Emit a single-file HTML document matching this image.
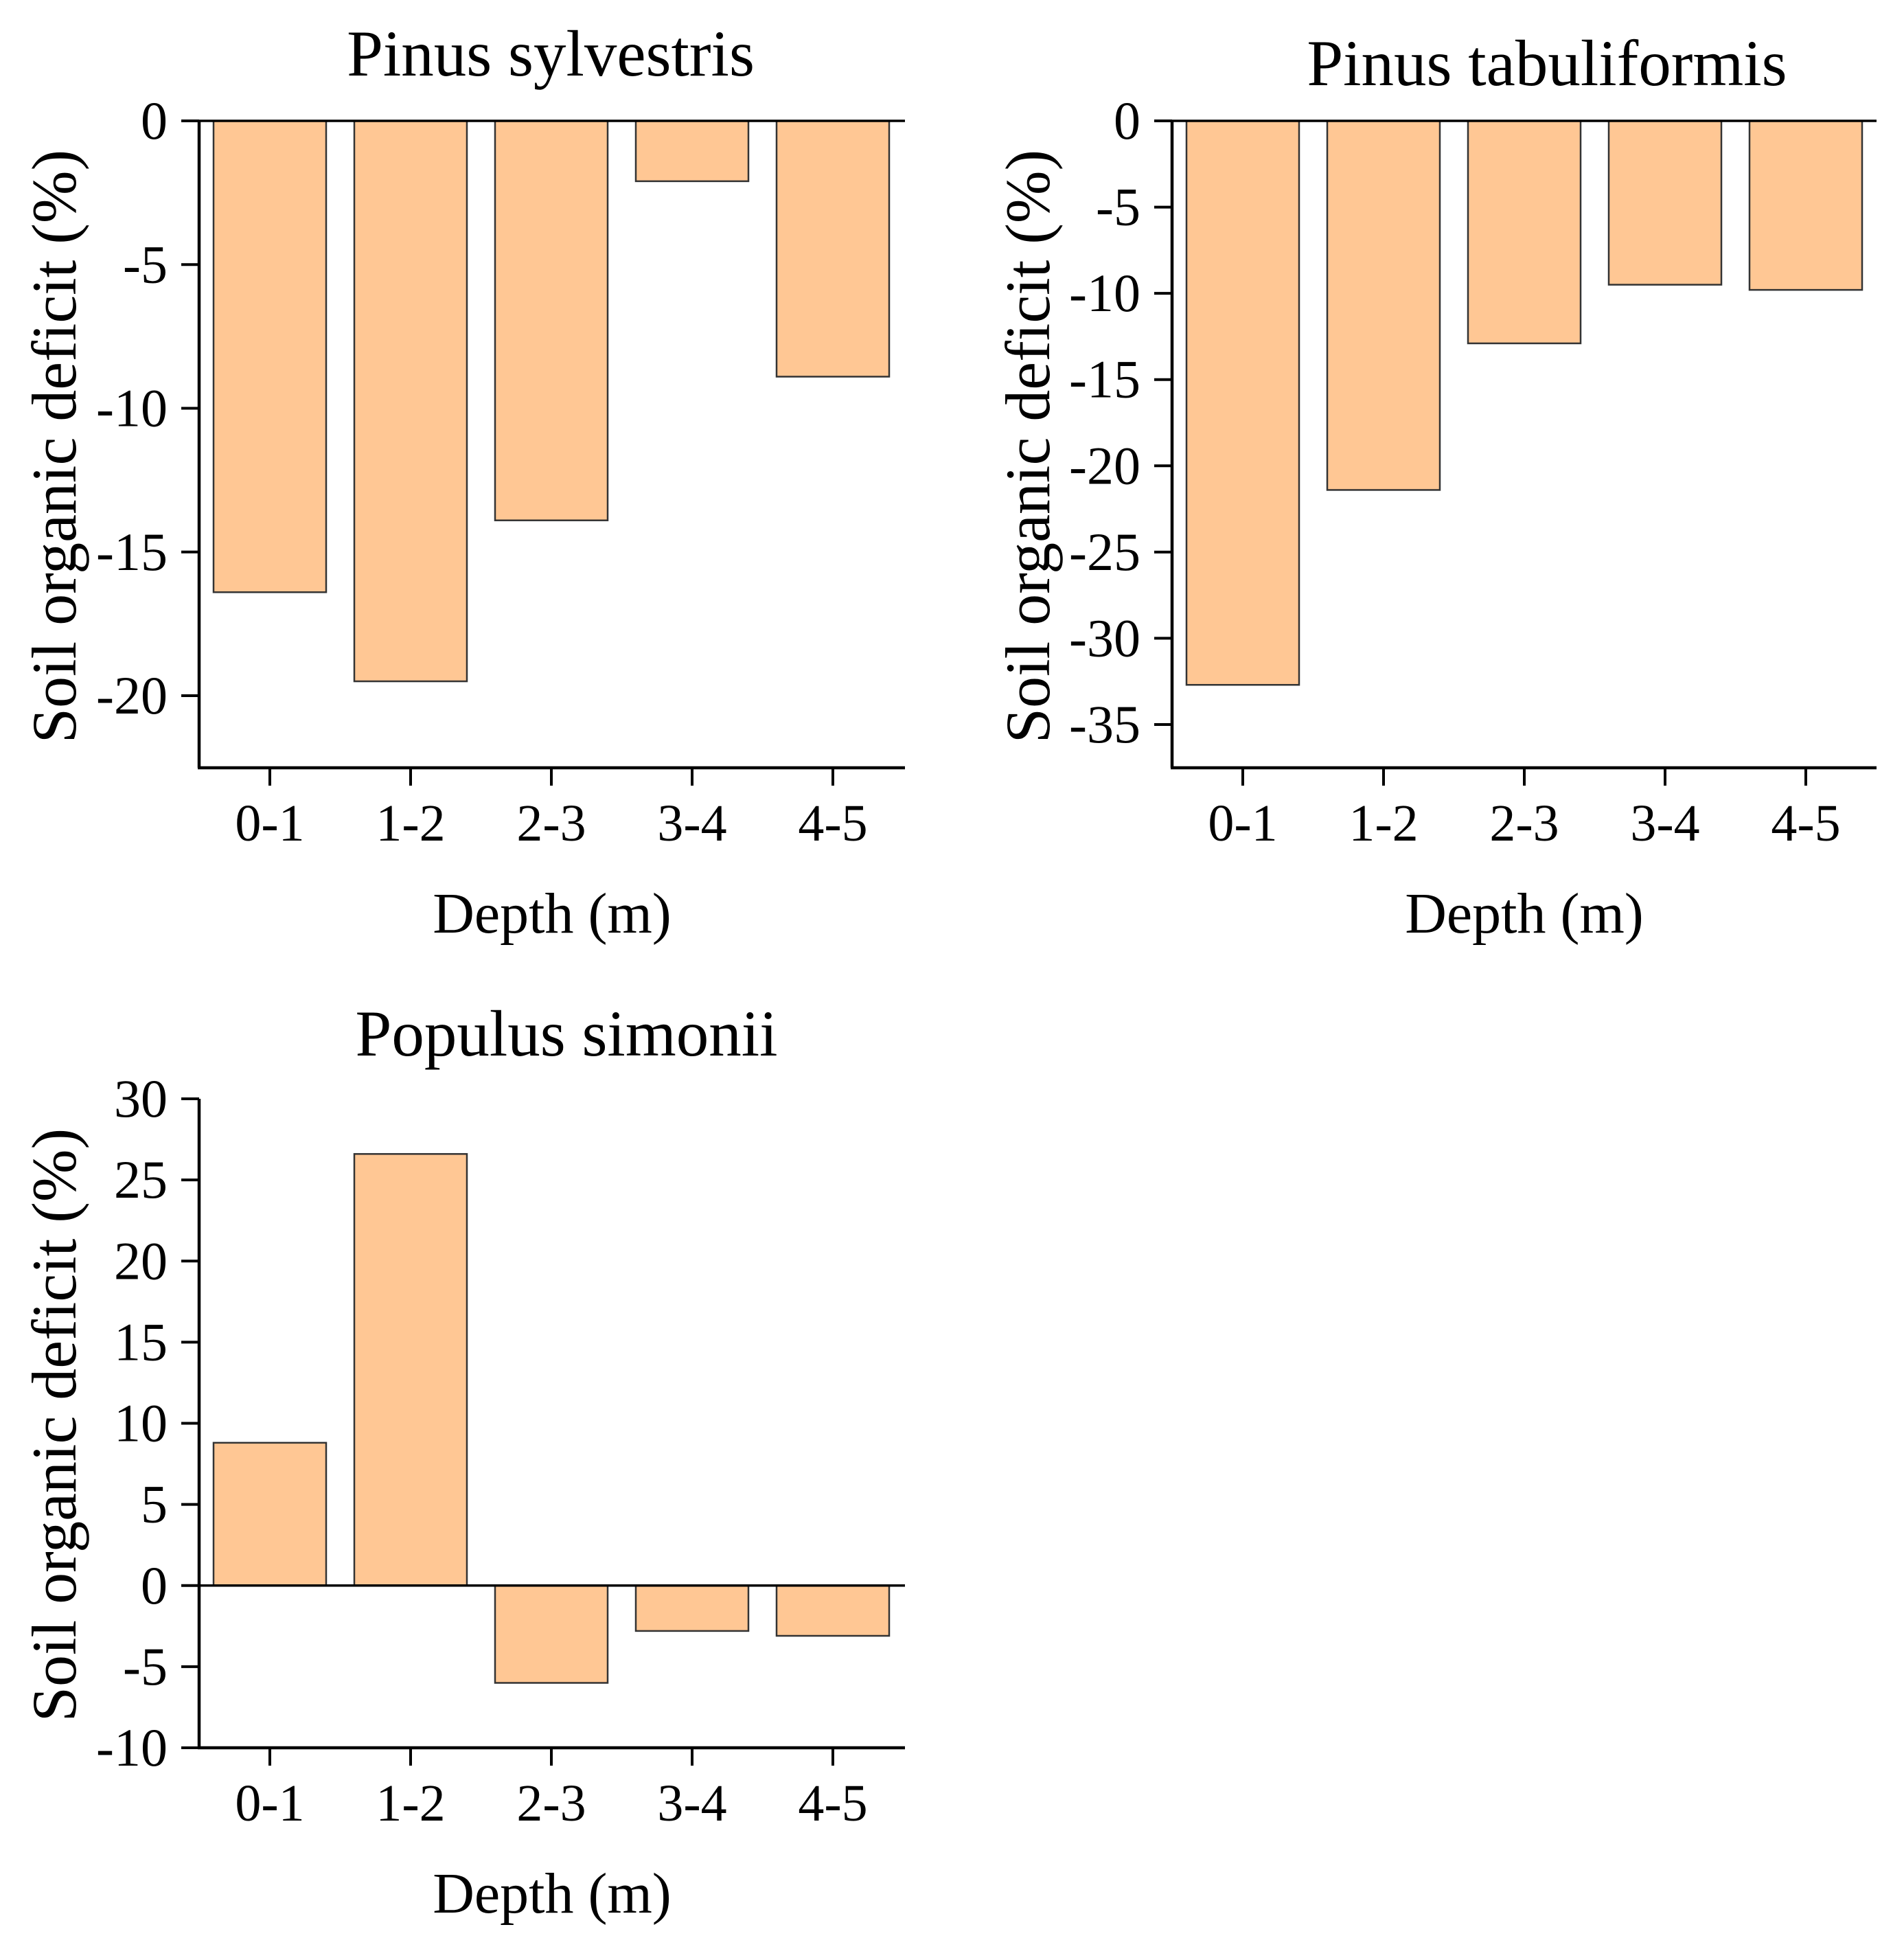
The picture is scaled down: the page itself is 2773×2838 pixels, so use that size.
<!DOCTYPE html>
<html><head><meta charset="utf-8"><style>
html,body{margin:0;padding:0;background:#fff;}
svg{display:block;font-family:"Liberation Serif","Times New Roman",serif;}
</style></head><body>
<svg id="fig" width="2773" height="2838" viewBox="0 0 2773 2838" xmlns="http://www.w3.org/2000/svg"></svg>
<script>
const categories = ["0-1","1-2","2-3","3-4","4-5"];
const sylvestrisValues = [-16.4,-19.5,-13.9,-2.1,-8.9];
const tabuliformisValues = [-32.7,-21.4,-12.9,-9.5,-9.8];
const simoniiValues = [8.8,26.6,-6.0,-2.8,-3.1];
const sylvestrisTicks = [0,-5,-10,-15,-20];
const tabuliformisTicks = [0,-5,-10,-15,-20,-25,-30,-35];
const simoniiTicks = [30,25,20,15,10,5,0,-5,-10];

const NS="http://www.w3.org/2000/svg";
const svg=document.getElementById('fig');
function mk(tag,attrs,parent){const e=document.createElementNS(NS,tag);for(const k in attrs)e.setAttribute(k,attrs[k]);(parent||svg).appendChild(e);return e;}

function panel(cfg){
  const g=mk('g',{});
  
  
  const yScale=v=>cfg.y0+(v-cfg.v0)*(cfg.y1-cfg.y0)/(cfg.v1-cfg.v0);
  const xScale=i=>cfg.xc0+i*cfg.step;
  cfg.values.forEach((v,i)=>{
    const ya=yScale(0), yb=yScale(v);
    const r=mk('rect',{x:xScale(i)-cfg.bw/2,y:Math.min(ya,yb),width:cfg.bw,height:Math.abs(yb-ya),fill:'#FFC794',stroke:'#333',"stroke-width":2.5},g);
    
    
  });
  const ya=mk('line',{x1:cfg.ax,y1:cfg.yTop,x2:cfg.ax,y2:cfg.yBottom,stroke:'#000',"stroke-width":4.5},g);
  
  
  const xa=mk('line',{x1:cfg.ax-2,y1:cfg.yBottom,x2:cfg.right,y2:cfg.yBottom,stroke:'#000',"stroke-width":4.5},g);
  
  
  if(cfg.zeroLine){
    const z=mk('line',{x1:cfg.ax,y1:yScale(0),x2:cfg.right,y2:yScale(0),stroke:'#000',"stroke-width":3.5},g);
    
    
  }
  cfg.ticks.forEach(t=>{
    const y=yScale(t);
    mk('line',{x1:cfg.ax-26,y1:y,x2:cfg.ax,y2:y,stroke:'#000',"stroke-width":4},g);
    const tx=mk('text',{x:cfg.ax-46,y:y+26,"text-anchor":"end","font-size":78},g);
    tx.textContent=String(t);
    
    
  });
  categories.forEach((c,i)=>{
    const x=xScale(i);
    mk('line',{x1:x,y1:cfg.yBottom,x2:x,y2:cfg.yBottom+26,stroke:'#000',"stroke-width":4},g);
    const tx=mk('text',{x:x,y:cfg.yBottom+106,"text-anchor":"middle","font-size":76},g);
    tx.textContent=c;
    
    
  });
  const t=mk('text',{x:cfg.titleX,y:cfg.titleY,"text-anchor":"middle","font-size":95},g);
  t.textContent=cfg.title;
  
  
  const xl=mk('text',{x:(cfg.ax+cfg.right)/2,y:cfg.yBottom+240,"text-anchor":"middle","font-size":84},g);
  xl.textContent='Depth (m)';
  
  
  const yl=mk('text',{x:0,y:0,"text-anchor":"middle","font-size":92,transform:`translate(${cfg.ylx},${cfg.yly}) rotate(-90)`},g);
  yl.textContent='Soil organic deficit (%)';
  
  
}

panel({name:'chart-pinus-sylvestris',title:'Pinus sylvestris',values:sylvestrisValues,ticks:sylvestrisTicks,
  v0:0,y0:176,v1:-20,y1:1013,ax:290,yTop:176,yBottom:1118,right:1318,xc0:393,step:205,bw:164,
  titleX:802,titleY:110,ylx:110,yly:650,zeroLine:true});
panel({name:'chart-pinus-tabuliformis',title:'Pinus tabuliformis',values:tabuliformisValues,ticks:tabuliformisTicks,
  v0:0,y0:176,v1:-35,y1:1055,ax:1707,yTop:176,yBottom:1118,right:2733,xc0:1810,step:205,bw:164,
  titleX:2253,titleY:124,ylx:1528,yly:650,zeroLine:true});
panel({name:'chart-populus-simonii',title:'Populus simonii',values:simoniiValues,ticks:simoniiTicks,
  v0:30,y0:1600,v1:-10,y1:2545,ax:290,yTop:1600,yBottom:2545,right:1318,xc0:393,step:205,bw:164,
  titleX:825,titleY:1537,ylx:110,yly:2075,zeroLine:true});
</script>
</body></html>
